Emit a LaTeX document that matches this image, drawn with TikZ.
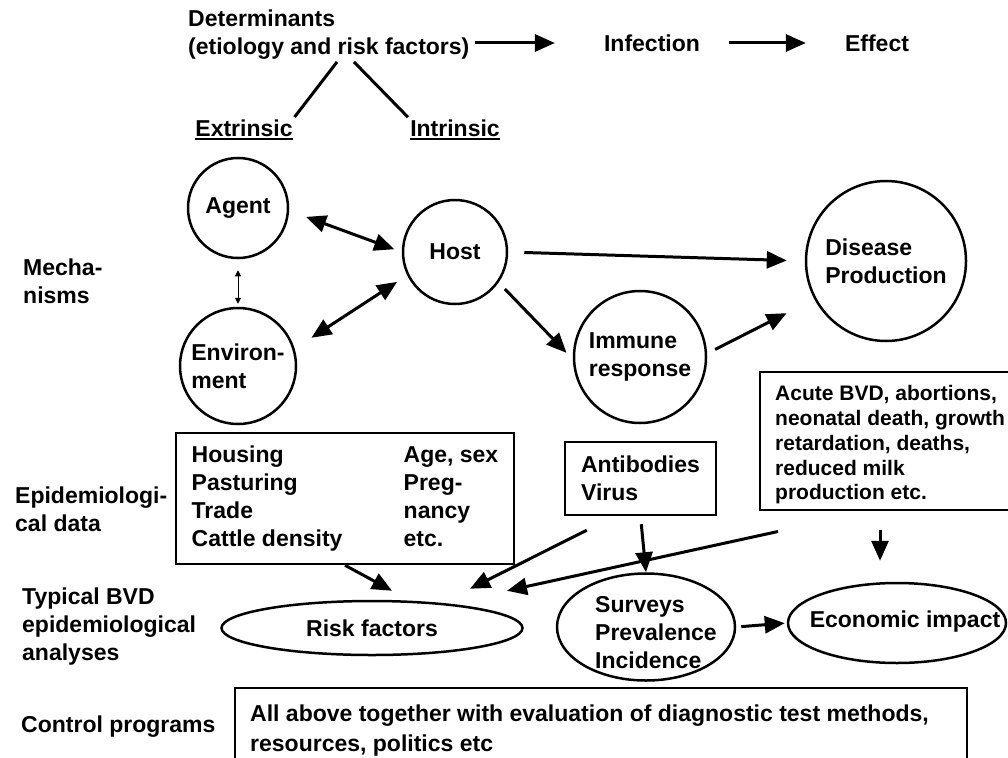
\documentclass[tikz,border=0pt]{standalone}
\usepackage{fontspec}
\setmainfont{Liberation Sans}
\usetikzlibrary{arrows.meta,calc,shapes.geometric}

\begin{document}
\begin{tikzpicture}[x=1pt,y=-1pt,
    every node/.style={font=\bfseries\fontsize{23}{28}\selectfont,inner sep=0pt},
    bubble/.style={draw,circle,line width=2.5pt,inner sep=1pt,align=left},
    oval/.style={draw,ellipse,line width=2.5pt},
    frame/.style={draw,line width=2.5pt,align=left},
    arr/.style={line width=3pt,-{Triangle[length=20pt,width=17pt]}},
    dbl/.style={line width=3pt,{Triangle[length=20pt,width=17pt]}-{Triangle[length=20pt,width=17pt]}},
    thindbl/.style={line width=1pt,{Triangle[length=6pt,width=6pt]}-{Triangle[length=6pt,width=6pt]}},
    boxline/.style={line width=2.5pt},
    link/.style={line width=3pt}]
    \fill[white] (0,0) rectangle (1008,757);
    \useasboundingbox (0,0) rectangle (1008,757);

    \node[anchor=west,align=left] (det) at (188,35) {Determinants\\(etiology and risk factors)};
    \node (infect) at (652,43) {Infection};
    \node (effect) at (877,43) {Effect};
    \draw[arr,shorten <=5pt,shorten >=49pt] (det.east |- infect.west) -- (infect.west);
    \draw[arr,shorten <=29pt,shorten >=39pt] (infect.east) -- (effect.west);

    \node (extr) at (244,128) {Extrinsic};
    \node (intr) at (455,128) {Intrinsic};
    \draw[line width=2pt] ([yshift=-3pt]extr.base west) -- ([yshift=-3pt]extr.base east);
    \draw[line width=2pt] ([yshift=-3pt]intr.base west) -- ([yshift=-3pt]intr.base east);
    \draw[link,shorten >=3pt] ($(det.south west)+(149,2)$) -- (extr.north east);
    \draw[link,shorten >=3pt] ($(det.south west)+(166,2)$) -- (intr.north west);

    \node[anchor=west,align=left] (mech) at (23,281) {Mecha-\\nisms};
    \node[anchor=west,align=left] (epilab) at (15,509) {Epidemiologi-\\cal data};
    \node[anchor=west,align=left] (typlab) at (22,627) {Typical BVD\\epidemiological\\analyses};
    \node[anchor=west] (ctrllab) at (21,727) {Control programs};

    \node[bubble,minimum size=100pt] (agent) at (238,208) {Agent};
    \node[bubble,minimum size=104pt] (host) at (455,252) {Host};
    \node[bubble,minimum size=116pt] (env) at (238,366) {Environ-\\ment};
    \node[bubble,minimum size=132pt] (immune) at (640,357) {Immune\\response};
    \node[bubble,minimum size=160pt] (disease) at (886,261) {Disease\\Production};

    \draw[dbl,shorten <=18pt,shorten >=8pt] (agent.-3) -- (host.180);
    \draw[dbl,shorten <=20pt,shorten >=12pt] (env.17) -- (host.206);
    \draw[thindbl,shorten <=11pt,shorten >=3pt] (agent.south) -- (env.north);
    \draw[arr,shorten <=16pt,shorten >=18pt] (host.east) -- (disease.west);
    \draw[arr,shorten <=9pt,shorten >=9pt] (host.-35) -- (immune.182);
    \draw[arr,shorten <=9pt,shorten >=31pt] (immune.3) -- (disease.208);

    \node[frame,minimum width=338pt,minimum height=131pt] (epi) at (345,498.5)
      {\begin{tabular}{@{}p{212pt}@{}l@{}}
        Housing & Age, sex\\
        Pasturing & Preg-\\
        Trade & nancy\\
        Cattle density & etc.
      \end{tabular}};
    \node[frame,minimum width=151pt,minimum height=73pt] (ab) at (640.5,478.5) {Antibodies\\Virus};
    \node[anchor=west,align=left,font=\bfseries\fontsize{21}{24.75}\selectfont] (acute) at (775,445)
      {Acute BVD, abortions,\\neonatal death, growth\\retardation, deaths,\\reduced milk\\production etc.};
    \draw[boxline] (1008,372) -| (760,510) -- (1008,510);

    \node[oval,minimum width=301pt,minimum height=54pt] (risk) at (372,628) {Risk factors};
    \node[oval,minimum width=178pt,minimum height=107pt] (surv) at (646,627) {};
    \node[anchor=west,align=left] (survtxt) at (595,633) {Surveys\\Prevalence\\Incidence};
    \node[oval,minimum width=218pt,minimum height=80pt] (econ) at (897,623) {};
    \node (econtxt) at (905,622) {Economic impact};

    \draw[arr] (epi.south) -- ($(risk.north)+(20,-9)$);
    \draw[arr] ($(ab.south west)+(23,14)$) -- ($(risk.north)+(98,-11)$);
    \draw[arr] ($(acute.south west)+(3,27)$) -- ($(risk.north)+(135,-9)$);
    \draw[arr,shorten <=8pt] (ab.south) -- (surv.north);
    \draw[arr] ($(acute.south west)+(105,26)$) -- ($(econ.north)+(-17,-21)$);
    \draw[arr,shorten <=5pt,shorten >=2pt] (surv.east) -- (econ.west);

    \node[anchor=west,align=left,font=\bfseries\fontsize{23}{30}\selectfont] (ctrl) at (250,731)
      {All above together with evaluation of diagnostic test methods,\\resources, politics etc};
    \draw[boxline] (235,758) |- (967,688) -- (967,758);
  \end{tikzpicture}
\end{document}
